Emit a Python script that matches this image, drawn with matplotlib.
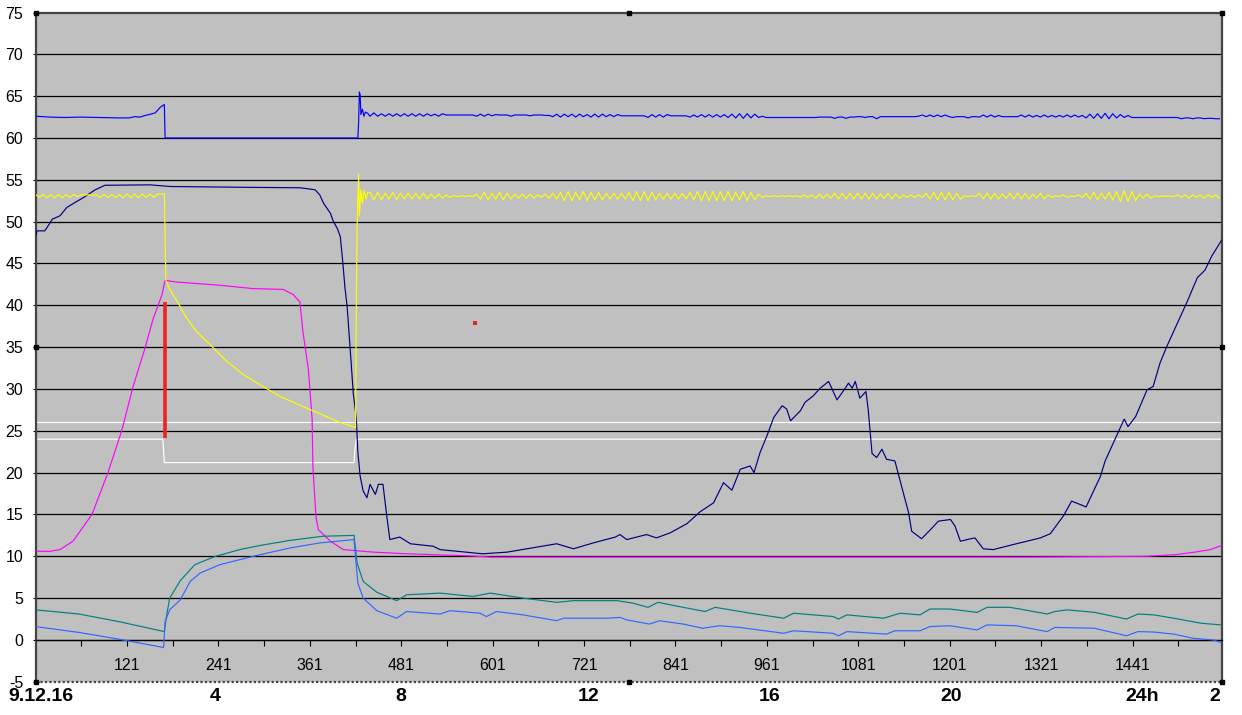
import numpy as np
import matplotlib.pyplot as plt

plt.rcParams['font.family'] = ['Liberation Sans', 'DejaVu Sans']
plt.rcParams['axes.unicode_minus'] = False

# x values are category numbers (one per minute, 1..1558)

# blue upper line
blue_x = [1, 20, 40, 60, 85, 110, 124, 131, 138, 145, 150, 158, 165, 170, 171,
          424, 425, 426, 427, 428, 430, 432, 434, 437]
blue_y = [62.6, 62.5, 62.45, 62.5, 62.45, 62.4, 62.4, 62.55, 62.5, 62.7, 62.8, 63.0, 63.7, 64.0, 60.0,
          60.0, 61.8, 65.5, 65.2, 62.8, 63.45, 62.6, 63.1, 62.95]
# ripple after restart, one value every 5 minutes from 440
blue_ripple = [
    62.6, 63.0, 62.6, 62.9, 62.6, 62.9, 62.6, 62.9, 62.6, 62.9,
    62.6, 62.9, 62.6, 62.9, 62.6, 62.9, 62.65, 62.85, 62.6, 62.9,
    62.75, 62.75, 62.75, 62.75, 62.75, 62.75, 62.75, 62.75, 62.6, 62.85,
    62.6, 62.85, 62.65, 62.8, 62.75, 62.75, 62.75, 62.6, 62.75, 62.75,
    62.75, 62.75, 62.65, 62.75, 62.75, 62.75, 62.7, 62.7, 62.55, 62.85,
    62.5, 62.85, 62.55, 62.85, 62.5, 62.85, 62.55, 62.8, 62.5, 62.85,
    62.5, 62.85, 62.55, 62.8, 62.55, 62.8, 62.65, 62.65, 62.65, 62.65,
    62.65, 62.65, 62.65, 62.45, 62.8, 62.5, 62.8, 62.5, 62.8, 62.65,
    62.65, 62.65, 62.65, 62.65, 62.5, 62.75, 62.5, 62.8, 62.5, 62.8,
    62.5, 62.8, 62.5, 62.8, 62.45, 62.85, 62.4, 62.9, 62.35, 62.9,
    62.4, 62.85, 62.45, 62.6, 62.45, 62.45, 62.45, 62.45, 62.45, 62.45,
    62.45, 62.45, 62.45, 62.45, 62.45, 62.45, 62.45, 62.45, 62.5, 62.5,
    62.5, 62.5, 62.35, 62.5, 62.5, 62.35, 62.5, 62.5, 62.55, 62.55,
    62.45, 62.55, 62.55, 62.3, 62.55, 62.55, 62.55, 62.55, 62.55, 62.55,
    62.55, 62.55, 62.55, 62.55, 62.6, 62.75, 62.55, 62.75, 62.55, 62.75,
    62.55, 62.75, 62.55, 62.45, 62.55, 62.55, 62.55, 62.4, 62.55, 62.55,
    62.5, 62.75, 62.5, 62.75, 62.5, 62.7, 62.55, 62.55, 62.55, 62.55,
    62.55, 62.75, 62.5, 62.75, 62.5, 62.7, 62.5, 62.75, 62.5, 62.7,
    62.5, 62.7, 62.5, 62.75, 62.5, 62.75, 62.5, 62.7, 62.4, 62.85,
    62.35, 62.9, 62.35, 62.95, 62.3, 62.9, 62.4, 62.8, 62.45, 62.7,
    62.45, 62.45, 62.45, 62.45, 62.45, 62.45, 62.45, 62.45, 62.45, 62.45,
    62.45, 62.45, 62.45, 62.3, 62.4, 62.4, 62.3, 62.4, 62.4, 62.3,
    62.35, 62.35, 62.3, 62.3]

# yellow line
yellow_pre = [53.25, 52.9, 53.25, 52.85, 53.25, 52.85, 53.25, 52.85, 53.25, 52.9,
              53.25, 53.0, 53.2, 53.2, 53.2, 53.15, 53.2, 52.9, 53.25, 52.85,
              53.25, 52.85, 53.25, 52.85, 53.3, 52.85, 53.3, 52.85, 53.3, 52.9,
              53.3, 52.9, 53.3, 53.3]
yellow_x = [170, 171, 172, 177, 188, 199, 212, 230, 252, 274, 296, 322, 352, 383, 401, 418,
            421, 422, 423, 425, 426, 428, 430, 432, 435, 437]
yellow_y = [53.3, 48.7, 43.0, 41.9, 40.3, 38.5, 36.9, 35.3, 33.3, 31.7, 30.5, 29.1, 27.9, 26.7, 26.0, 25.5,
            25.4, 40.3, 49.4, 55.7, 50.7, 53.8, 52.2, 53.7, 52.7, 53.5]
yellow_ripple = [
    53.5, 52.6, 53.5, 52.6, 53.4, 52.7, 53.5, 52.6, 53.4, 52.7,
    53.4, 52.7, 53.4, 52.7, 53.4, 52.7, 53.3, 52.8, 53.3, 52.8,
    53.2, 52.9, 53.1, 53.0, 53.1, 53.0, 53.1, 53.0, 53.3, 52.7,
    53.5, 52.6, 53.4, 52.7, 53.5, 52.6, 53.4, 52.7, 53.3, 52.8,
    53.3, 52.8, 53.3, 52.8, 53.2, 52.9, 53.3, 52.8, 53.4, 52.7,
    53.5, 52.5, 53.6, 52.5, 53.5, 52.6, 53.6, 52.5, 53.5, 52.6,
    53.5, 52.6, 53.4, 52.7, 53.4, 52.7, 53.4, 52.7, 53.5, 52.5,
    53.6, 52.5, 53.6, 52.5, 53.5, 52.6, 53.4, 52.7, 53.4, 52.7,
    53.4, 52.7, 53.4, 52.7, 53.5, 52.6, 53.6, 52.5, 53.6, 52.5,
    53.6, 52.5, 53.6, 52.5, 53.6, 52.5, 53.5, 52.6, 53.6, 52.5,
    53.5, 52.6, 53.3, 52.9, 53.1, 53.0, 53.1, 53.0, 53.1, 53.0,
    53.1, 53.0, 53.1, 52.9, 53.2, 52.9, 53.2, 52.8, 53.3, 52.8,
    53.3, 52.8, 53.4, 52.7, 53.4, 52.7, 53.4, 52.7, 53.4, 52.7,
    53.4, 52.7, 53.4, 52.7, 53.3, 52.8, 53.4, 52.7, 53.3, 52.8,
    53.2, 52.9, 53.2, 52.9, 53.2, 52.9, 53.4, 52.7, 53.5, 52.6,
    53.5, 52.6, 53.5, 52.6, 53.4, 52.7, 53.1, 53.0, 53.1, 53.0,
    53.4, 52.7, 53.4, 52.7, 53.4, 52.7, 53.3, 52.8, 53.4, 52.7,
    53.4, 52.7, 53.4, 52.7, 53.3, 52.8, 53.4, 52.7, 53.2, 52.9,
    53.1, 53.0, 53.2, 52.9, 53.1, 53.0, 53.2, 52.9, 53.4, 52.7,
    53.5, 52.6, 53.4, 52.7, 53.5, 52.6, 53.6, 52.4, 53.7, 52.4,
    53.6, 52.5, 53.3, 52.8, 53.3, 52.8, 53.1, 53.0, 53.05, 53.05,
    53.05, 53.0, 53.2, 52.9, 53.2, 52.8, 53.2, 52.9, 53.2, 52.8,
    53.2, 52.9, 53.2, 52.8]

# dark blue line
navy_x = [1, 3, 13, 16, 23, 33, 42, 53, 66, 79, 92, 151, 178, 283, 348, 361, 368, 374, 379, 388,
          392, 397, 401, 404, 407, 410, 414, 418, 422, 424, 427, 431, 436, 440, 447, 451, 457, 462,
          466, 479, 493, 523, 532, 588, 620, 685, 707, 733, 762, 768, 777, 803, 816, 834, 856, 873,
          891, 904, 915, 926, 939, 944, 952, 961, 970, 981, 987, 992, 1005, 1011, 1022, 1031, 1042,
          1053, 1064, 1068, 1073, 1077, 1083, 1091, 1094, 1099, 1105, 1112, 1118, 1129, 1140, 1147,
          1151, 1164, 1178, 1186, 1202, 1208, 1215, 1224, 1234, 1245, 1258, 1284, 1320, 1333, 1350,
          1361, 1372, 1380, 1399, 1405, 1418, 1430, 1435, 1445, 1460, 1468, 1477, 1486, 1499, 1512,
          1526, 1536, 1545, 1558]
navy_y = [48.3, 48.9, 48.9, 49.3, 50.3, 50.7, 51.7, 52.3, 53.0, 53.8, 54.35, 54.4, 54.2, 54.1, 54.05, 53.9,
          53.8, 53.2, 52.2, 51.0, 50.0, 49.2, 48.2, 45.4, 42.2, 39.8, 34.7, 29.5, 26.5, 22.5, 19.6, 17.8,
          17.0, 18.6, 17.4, 18.6, 18.6, 14.8, 12.0, 12.3, 11.5, 11.2, 10.8, 10.3, 10.5, 11.5, 10.9, 11.6,
          12.3, 12.6, 12.0, 12.6, 12.2, 12.8, 13.9, 15.3, 16.4, 18.8, 17.9, 20.4, 20.8, 20.0, 22.4, 24.4,
          26.6, 28.0, 27.6, 26.2, 27.4, 28.4, 29.2, 30.1, 30.9, 28.7, 30.1, 30.7, 30.1, 30.9, 28.9, 29.7,
          27.5, 22.3, 21.8, 22.8, 21.6, 21.4, 17.6, 15.2, 13.0, 12.1, 13.4, 14.2, 14.4, 13.6, 11.8, 12.0,
          12.2, 10.9, 10.8, 11.4, 12.2, 12.7, 14.8, 16.6, 16.2, 15.9, 19.6, 21.4, 24.0, 26.4, 25.5, 26.7,
          29.9, 30.3, 33.1, 35.1, 37.7, 40.3, 43.3, 44.2, 45.9, 47.8]

# magenta line
magenta_x = [1, 20, 33, 50, 75, 96, 114, 129, 145, 155, 167, 171, 184, 213, 243, 286, 326, 339, 348,
             352, 359, 364, 365, 369, 372, 388, 405, 444, 488, 571, 600, 800, 1097, 1143, 1300, 1460,
             1497, 1523, 1543, 1558]
magenta_y = [10.6, 10.6, 10.8, 11.8, 15.0, 20.0, 25.0, 30.3, 35.0, 38.3, 41.3, 43.0, 42.8, 42.6, 42.4,
             42.0, 41.9, 41.3, 40.4, 36.8, 32.4, 26.4, 20.7, 14.8, 13.2, 11.8, 10.8, 10.5, 10.3, 10.05,
             9.9, 9.9, 9.9, 9.9, 9.9, 10.0, 10.2, 10.5, 10.8, 11.3]

# two white lines
white_top_x = [1, 1558]
white_top_y = [26.1, 26.1]
white_low_x = [1, 168, 169, 170, 419, 420, 422, 1558]
white_low_y = [24.0, 24.0, 22.6, 21.2, 21.2, 22.7, 24.0, 24.0]

# red marks
red_x = [171, 171]
red_y = [24.2, 40.45]
red_dot_x = [578]
red_dot_y = [37.9]

# teal line
teal_x = [1, 58, 110, 170, 172, 177, 191, 210, 237, 269, 296, 335, 378, 419, 423, 431, 449, 475,
          488, 532, 575, 598, 641, 685, 707, 751, 764, 785, 805, 818, 851, 880, 893, 939, 983, 996,
          1048, 1055, 1066, 1114, 1136, 1162, 1175, 1201, 1237, 1250, 1280, 1293, 1329, 1339, 1355,
          1391, 1433, 1448, 1469, 1495, 1531, 1557]
teal_y = [3.6, 3.1, 2.2, 1.0, 2.4, 5.0, 7.1, 9.0, 10.0, 10.8, 11.3, 11.9, 12.4, 12.5, 9.2, 7.0, 5.7, 4.7,
          5.4, 5.6, 5.2, 5.6, 5.0, 4.5, 4.7, 4.7, 4.7, 4.4, 3.9, 4.5, 3.9, 3.4, 3.9, 3.2, 2.6, 3.2,
          2.8, 2.5, 3.0, 2.6, 3.2, 3.0, 3.7, 3.7, 3.3, 3.9, 3.9, 3.7, 3.1, 3.4, 3.6, 3.3, 2.5, 3.1,
          3.0, 2.6, 2.0, 1.8]

# light blue line
lblue_x = [1, 58, 110, 169, 171, 177, 191, 204, 217, 243, 269, 296, 335, 374, 419, 424, 431, 449,
           475, 488, 532, 545, 584, 593, 606, 641, 685, 694, 751, 768, 777, 807, 820, 851, 877, 899,
           925, 983, 996, 1048, 1055, 1066, 1118, 1129, 1162, 1175, 1201, 1237, 1250, 1288, 1329,
           1339, 1391, 1433, 1448, 1469, 1495, 1521, 1547, 1557]
lblue_y = [1.6, 0.9, 0.1, -0.9, 2.2, 3.6, 4.8, 7.0, 8.0, 9.0, 9.6, 10.2, 11.0, 11.6, 12.0, 6.8, 5.0, 3.5,
           2.6, 3.4, 3.1, 3.5, 3.2, 2.8, 3.4, 3.0, 2.3, 2.6, 2.6, 2.7, 2.4, 1.9, 2.3, 1.9, 1.4, 1.7,
           1.5, 0.8, 1.1, 0.8, 0.5, 1.0, 0.7, 1.1, 1.1, 1.6, 1.7, 1.2, 1.8, 1.7, 1.0, 1.5, 1.4, 0.5,
           1.0, 0.95, 0.7, 0.2, 0.0, -0.3]

# axis texts
grid_vals = list(range(0, 75, 5))
tick_pos = list(range(61, 1502, 60))
tick_lab = [str(t) if (t - 1) % 120 == 0 else '' for t in tick_pos]
hour_lab = ['9.12.16', '4', '8', '12', '16', '20', '24h', '2']
hour_pos = [8, 237, 481, 727, 964, 1203, 1454, 1549]

# put the regular ripple parts together
ripple_x = np.arange(440, 1556, 5)
pre_x = np.arange(1, 167, 5)
bx = np.concatenate([blue_x, ripple_x])
by = np.concatenate([blue_y, blue_ripple])
yx = np.concatenate([pre_x, yellow_x, ripple_x])
yy = np.concatenate([yellow_pre, yellow_y, yellow_ripple])

fig = plt.figure(figsize=(12.42, 7.15), dpi=100)
ax = fig.add_axes([35.6 / 1242, 1 - 681.8 / 715, (1221.7 - 35.6) / 1242, (681.8 - 12.5) / 715])
ax.set_facecolor('#C0C0C0')
ax.set_xlim(1, 1558)
ax.set_ylim(-5, 75)

for g in grid_vals:
    ax.axhline(g, color='black', lw=0.9, zorder=1)

lw = 0.85
ax.plot(white_top_x, white_top_y, color='white', lw=lw, zorder=2)
ax.plot(white_low_x, white_low_y, color='white', lw=lw, zorder=2)
ax.plot(magenta_x, magenta_y, color='#FF00FF', lw=lw, zorder=3)
ax.plot(navy_x, navy_y, color='#000080', lw=lw, zorder=4)
ax.plot(yx, yy, color='#FFFF00', lw=lw, zorder=4)
ax.plot(bx, by, color='#0000FF', lw=lw, zorder=4)
ax.plot(teal_x, teal_y, color='#008080', lw=lw, zorder=4)
ax.plot(lblue_x, lblue_y, color='#3366FF', lw=lw, zorder=5)
ax.plot(red_x, red_y, color='#EE2222', lw=2.6, solid_capstyle='butt', zorder=6)
ax.plot(red_dot_x, red_dot_y, 's', color='#EE2222', ms=2.2, mew=0, zorder=6)

# y axis
ax.set_yticks(range(-5, 80, 5))
ax.tick_params(axis='y', direction='inout', length=4, width=0.8, labelsize=11.5, pad=7)

# x axis crosses at 0
ax.spines['bottom'].set_position(('data', 0))
ax.spines['bottom'].set_color('black')
ax.spines['bottom'].set_linewidth(0.9)
ax.set_xticks(tick_pos)
ax.set_xticklabels(tick_lab)
ax.tick_params(axis='x', direction='out', length=4, width=0.8, labelsize=11.5, pad=9)

# dotted frame of the selected plot area
for s in ['left', 'top', 'right']:
    ax.spines[s].set_linestyle((0, (1, 1)))
    ax.spines[s].set_color('#444444')
    ax.spines[s].set_linewidth(1.6)
ax.plot([0, 1], [0, 0], transform=ax.transAxes, ls=(0, (1, 1)), color='#444444', lw=1.6,
        clip_on=False, zorder=7)
hx = [0, 0.5, 1, 0, 1, 0, 0.5, 1]
hy = [1, 1, 1, 0.5, 0.5, 0, 0, 0]
ax.plot(hx, hy, 's', color='black', ms=3.5, transform=ax.transAxes, clip_on=False, zorder=8)

# hour labels under the plot
for lab, p in zip(hour_lab, hour_pos):
    ax.text(p, -0.0227, lab, transform=ax.get_xaxis_transform(), ha='center', va='center',
            fontsize=14, fontweight='bold')

fig.savefig('out.png', dpi=100)
